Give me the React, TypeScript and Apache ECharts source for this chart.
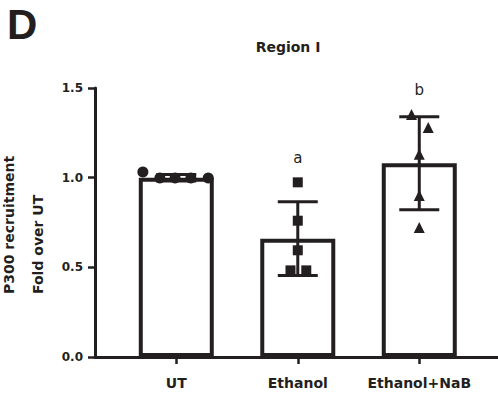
import React, { useEffect, useRef } from "react";
import * as echarts from "echarts";

// Groups along the x axis (positions 0, 1, 2)
const categories = ["UT", "Ethanol", "Ethanol+NaB"];

// Bar heights (mean) and error bars (SD)
const means = [1.0, 0.66, 1.08];
const sds = [0.018, 0.206, 0.259];

// Individual replicates per group, with their horizontal scatter offsets
const utValues = [1.032, 0.998, 0.998, 0.998, 0.998];
const utOffsets = [-0.275, -0.135, -0.01, 0.12, 0.263];
const ethanolValues = [0.974, 0.76, 0.595, 0.483, 0.483];
const ethanolOffsets = [0, 0, 0, -0.06, 0.07];
const nabValues = [1.352, 1.28, 1.131, 0.901, 0.722];
const nabOffsets = [-0.064, 0.074, 0, 0, 0];

// Significance letters and the height they sit at
const sigLetters = ["", "a", "b"];
const sigLetterY = [0, 1.11, 1.49];

// Y axis ticks
const yTicks = [0, 0.5, 1.0, 1.5];

const INK = "#231f20";
const FONT = "DejaVu Sans";

export default function App() {
  const ref = useRef<HTMLDivElement>(null);

  useEffect(() => {
    if (!ref.current) return;
    const chart = echarts.init(ref.current, undefined, { renderer: "svg" });

    const points = (vals: number[], offs: number[], idx: number) =>
      vals.map((v, i) => [idx + offs[i], v]);

    const dot = { color: INK, opacity: 1 };

    const option: echarts.EChartsOption = {
      animation: false,
      backgroundColor: "#ffffff",
      grid: { left: 95, right: 0, top: 88, bottom: 41, containLabel: false },
      xAxis: {
        type: "value",
        min: -0.669,
        max: 2.648,
        splitLine: { show: false },
        axisLine: { show: true, onZero: false, lineStyle: { color: INK, width: 3 } },
        axisTick: {
          show: true,
          customValues: [0, 1, 2],
          length: 7,
          lineStyle: { color: INK, width: 2.5 },
        },
        axisLabel: {
          customValues: [0, 1, 2],
          formatter: (v: number) => categories[Math.round(v)] ?? "",
          margin: 19,
          color: INK,
          fontFamily: FONT,
          fontWeight: "bold",
          fontSize: 14,
        },
      },
      yAxis: {
        type: "value",
        min: yTicks[0],
        max: yTicks[yTicks.length - 1],
        interval: 0.5,
        splitLine: { show: false },
        axisLine: { show: true, onZero: false, lineStyle: { color: INK, width: 3 } },
        axisTick: { show: true, length: 7, lineStyle: { color: INK, width: 2.5 } },
        axisLabel: {
          formatter: (v: number) => v.toFixed(1),
          margin: 12,
          color: INK,
          fontFamily: FONT,
          fontWeight: "bold",
          fontSize: 12,
        },
      },
      graphic: [
        {
          type: "text",
          x: 7,
          y: 24,
          style: {
            text: "D",
            font: "bold 42px 'Liberation Sans', Arial, sans-serif",
            fill: INK,
            align: "left",
            verticalAlign: "middle",
          },
        },
        {
          type: "text",
          x: 288,
          y: 47,
          style: {
            text: "Region I",
            font: `bold 14px '${FONT}'`,
            fill: INK,
            align: "center",
            verticalAlign: "middle",
          },
        },
        {
          type: "text",
          x: -5.5,
          y: 294,
          rotation: Math.PI / 2,
          style: {
            text: "P300 recruitment\nFold over UT",
            font: `bold 14px '${FONT}'`,
            lineHeight: 29.3,
            fill: INK,
            align: "left",
            verticalAlign: "top",
          },
        },
      ],
      series: [
        {
          type: "bar",
          barWidth: 75,
          data: means.map((m, i) => [i, m]),
          itemStyle: { color: "#ffffff", borderColor: INK, borderWidth: 4 },
          z: 2,
        },
        {
          type: "custom",
          data: means.map((m, i) => [i, m, sds[i]]),
          encode: { x: 0, y: 1 },
          z: 3,
          renderItem: (params: any, api: any) => {
            const x = api.value(0);
            const m = api.value(1);
            const s = api.value(2);
            const top = api.coord([x, m + s]);
            const bot = api.coord([x, m - s]);
            const half = 20;
            const st = { stroke: INK, lineWidth: 3 };
            return {
              type: "group",
              children: [
                { type: "line", shape: { x1: top[0], y1: top[1], x2: bot[0], y2: bot[1] }, style: st },
                { type: "line", shape: { x1: top[0] - half, y1: top[1], x2: top[0] + half, y2: top[1] }, style: st },
                { type: "line", shape: { x1: bot[0] - half, y1: bot[1], x2: bot[0] + half, y2: bot[1] }, style: st },
              ],
            };
          },
        },
        {
          type: "scatter",
          symbol: "circle",
          symbolSize: 11,
          data: points(utValues, utOffsets, 0),
          itemStyle: dot,
          z: 4,
        },
        {
          type: "scatter",
          symbol: "rect",
          symbolSize: 10,
          data: points(ethanolValues, ethanolOffsets, 1),
          itemStyle: dot,
          z: 4,
        },
        {
          type: "scatter",
          symbol: "triangle",
          symbolSize: 11,
          data: points(nabValues, nabOffsets, 2),
          itemStyle: dot,
          z: 4,
        },
        {
          type: "scatter",
          symbolSize: 1,
          itemStyle: { color: "rgba(0,0,0,0)", opacity: 1 },
          data: sigLetters
            .map((t, i) => [i, sigLetterY[i], t])
            .filter((d) => d[2] !== ""),
          label: {
            show: true,
            position: "inside",
            formatter: (p: any) => p.value[2],
            color: INK,
            fontFamily: FONT,
            fontSize: 15,
          },
          z: 5,
        },
      ],
    };

    chart.setOption(option);
    return () => chart.dispose();
  }, []);

  return (
    <div
      ref={ref}
      style={{ position: "absolute", left: 0, top: 0, width: 498, height: 398 }}
    />
  );
}
